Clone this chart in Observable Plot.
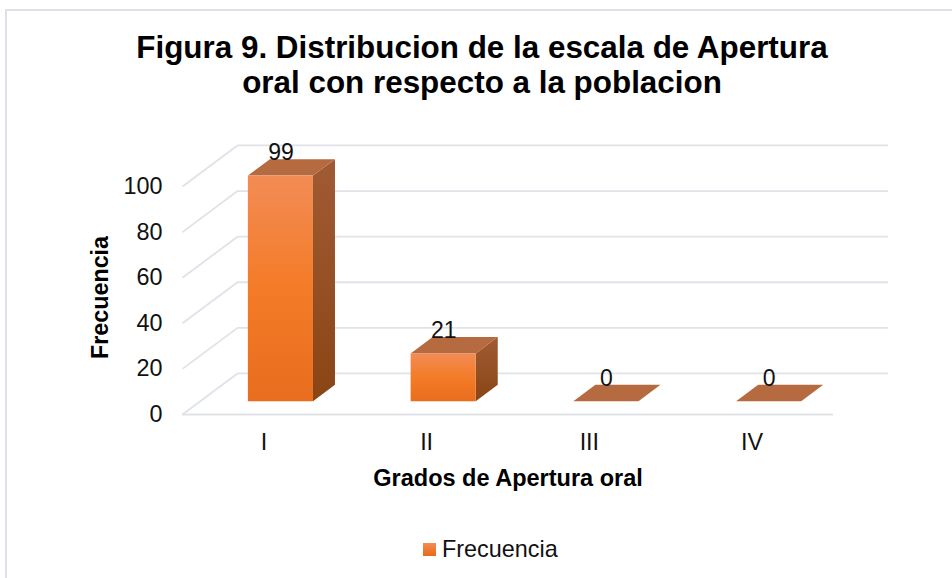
<!DOCTYPE html>
<html>
<head>
<meta charset="utf-8">
<script src="https://cdn.jsdelivr.net/npm/d3@7"></script>
<script src="https://cdn.jsdelivr.net/npm/@observablehq/plot@0.6"></script>
<style>
  html, body { margin: 0; padding: 0; background: #fff; width: 952px; height: 578px; overflow: hidden; }
  body { position: relative; font-family: "Liberation Sans", Arial, sans-serif; }
  #frame { position: absolute; left: 5px; top: 9px; width: 1000px; height: 600px;
           border-left: 2px solid #dde2e8; border-top: 2px solid #dde2e8; }
  #title { position: absolute; left: 6px; width: 952px; top: 30px; text-align: center;
           font-weight: bold; font-size: 31.4px; line-height: 35px; color: #000; }
  #chart { position: absolute; left: 0; top: 120px; }
  #legend { position: absolute; left: 0; top: 536px; width: 952px; height: 30px; }
  #legend .sw { position: absolute; left: 423px; top: 7px; width: 13px; height: 13px;
                background: linear-gradient(#f58d50, #e8691b); }
  #legend .lb { position: absolute; left: 442px; top: 0; font-size: 23.4px; line-height: 26px; color: #111; }
</style>
</head>
<body>
<div id="frame"></div>
<div id="title">Figura 9. Distribucion de la escala de Apertura<br>oral con respecto a la poblacion</div>
<div id="chart"></div>
<div id="legend"><div class="sw"></div><div class="lb">Frecuencia</div></div>
<script>
// ---- data ----
const categories = ["I", "II", "III", "IV"];
const frecuencia = [99, 21, 0, 0];
const yTicks = [0, 20, 40, 60, 80, 100];
const seriesName = "Frecuencia";
const xTitle = "Grados de Apertura oral";
const yTitle = "Frecuencia";

// ---- pseudo-3D projection (in data units) ----
const DX = 0.338;   // depth offset in category units
const DY = 18;      // depth offset in value units
const D0 = 0.31, D1 = 0.71; // bar depth span (fraction of floor depth)
const BW = 0.4;     // bar width (category units)

const bars = categories.map((c, i) => ({c, i, v: frecuencia[i]}));
const xl = d => d.i + 0.5 - BW / 2 + D0 * DX;
const xr = d => xl(d) + BW;
const sidePts = bars.flatMap(d => [
  {i: d.i, x: xr(d), y1: D0 * DY, y2: d.v + D0 * DY},
  {i: d.i, x: xr(d) + (D1 - D0) * DX, y1: D1 * DY, y2: d.v + D1 * DY}
]);
const topPts = bars.flatMap(d => [
  {i: d.i, y: d.v + D0 * DY, x1: xl(d), x2: xr(d)},
  {i: d.i, y: d.v + D1 * DY, x1: xl(d) + (D1 - D0) * DX, x2: xr(d) + (D1 - D0) * DX}
]);

const grid = "#dfe3e8";
const font = "'Liberation Sans', Arial, sans-serif";

const plot = Plot.plot({
  width: 952,
  height: 405,
  marginLeft: 182,
  marginRight: 119,
  marginTop: 66,
  marginBottom: 111,
  x: {domain: [0, 4], axis: null},
  y: {domain: [0, 100], axis: null},
  style: {fontFamily: font, background: "transparent", overflow: "visible"},
  marks: [
    // back wall gridlines
    Plot.ruleY(yTicks, {y: d => d + DY, x1: () => DX, x2: () => 4 + DX, stroke: grid, strokeWidth: 1.8}),
    // left wall diagonals
    Plot.link(yTicks, {x1: () => 0, y1: d => d, x2: () => DX, y2: d => d + DY, stroke: grid, strokeWidth: 1.8}),
    // front floor edge
    Plot.ruleY([0], {x1: () => 0, x2: () => 4, stroke: grid, strokeWidth: 1.8}),
    // bar side faces
    Plot.areaY(sidePts, {x: "x", y1: "y1", y2: "y2", z: "i", fill: "url(#gSide)", curve: "linear"}),
    // bar top faces
    Plot.areaX(topPts, {y: "y", x1: "x1", x2: "x2", z: "i", fill: "#b66a3f", curve: "linear"}),
    // bar front faces
    Plot.rect(bars, {x1: xl, x2: xr, y1: () => D0 * DY, y2: d => d.v + D0 * DY, fill: "url(#gFront)"}),
    // data labels
    Plot.text(bars, {x: d => d.i + 0.5 + D0 * DX, y: d => d.v + D0 * DY, text: d => String(d.v), dy: -23,
      fontSize: 23, fill: "#111", lineAnchor: "middle"}),
    // y tick labels
    Plot.text(yTicks, {frameAnchor: "left", y: d => d, text: d => String(d), textAnchor: "end", dx: -20,
      fontSize: 23.4, fill: "#111", lineAnchor: "middle"}),
    // category labels
    Plot.text(bars, {x: d => d.i + 0.5, y: () => 0, text: "c", dy: 28, fontSize: 23.4, fill: "#111", lineAnchor: "middle"}),
    // axis titles
    Plot.text([xTitle], {frameAnchor: "bottom", text: d => d, dy: 64, fontSize: 23.5, fontWeight: "bold", fill: "#000", lineAnchor: "middle"}),
    Plot.text([yTitle], {frameAnchor: "left", text: d => d, dx: -82, dy: -3, rotate: -90, textAnchor: "middle",
      fontSize: 23.3, fontWeight: "bold", fill: "#000", lineAnchor: "middle"})
  ]
});

const svg = d3.select(plot);
const defs = svg.insert("defs", ":first-child");
const gf = defs.append("linearGradient").attr("id", "gFront").attr("x1", 0).attr("y1", 0).attr("x2", 0).attr("y2", 1);
gf.append("stop").attr("offset", "0%").attr("stop-color", "#f28c55");
gf.append("stop").attr("offset", "50%").attr("stop-color", "#f47b27");
gf.append("stop").attr("offset", "100%").attr("stop-color", "#e86d1e");
const gs = defs.append("linearGradient").attr("id", "gSide").attr("x1", 0).attr("y1", 0).attr("x2", 0).attr("y2", 1);
gs.append("stop").attr("offset", "0%").attr("stop-color", "#a05b34");
gs.append("stop").attr("offset", "100%").attr("stop-color", "#8a4514");

document.getElementById("chart").appendChild(plot);
</script>
</body>
</html>
